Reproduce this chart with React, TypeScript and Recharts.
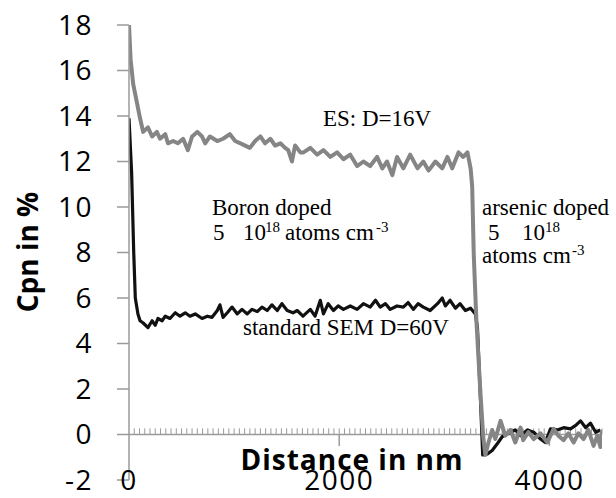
// App.tsx
import React from "react";
import { LineChart, Line, XAxis, YAxis, ReferenceLine } from "recharts";

// ES: D=16V (grey trace)
const grayDist = [
  0, 15, 40, 75, 105, 135, 180, 220, 265, 295, 345, 370, 420, 465, 515, 560, 600, 650, 695, 725,
  770, 840, 895, 960, 1010, 1060, 1105, 1150, 1200, 1250, 1295, 1345, 1390, 1440, 1485, 1515, 1550,
  1580, 1630, 1660, 1725, 1790, 1850, 1915, 1980, 2040, 2105, 2170, 2230, 2295, 2360, 2410, 2455,
  2505, 2550, 2610, 2675, 2745, 2800, 2850, 2915, 2980, 3030, 3075, 3135, 3180, 3220, 3250, 3265,
  3280, 3305, 3340, 3370, 3390, 3420, 3455, 3485, 3535, 3580, 3630, 3675, 3725, 3750, 3800, 3850,
  3915, 3980, 4040, 4085, 4135, 4180, 4230, 4275, 4325, 4370, 4420, 4455, 4485, 4500,
];
const grayCpn = [
  18.0, 16.5, 15.4, 14.6, 13.9, 13.3, 13.5, 13.1, 13.3, 13.0, 13.2, 12.8, 12.9, 12.8, 13.0, 12.5, 13.1,
  13.3, 13.1, 12.8, 13.1, 12.9, 13.0, 13.2, 12.9, 12.8, 12.7, 12.6, 12.9, 13.1, 12.8, 13.0, 12.7, 12.8,
  12.6, 12.5, 12.0, 12.7, 12.4, 12.4, 12.6, 12.3, 12.5, 12.2, 12.4, 12.1, 12.3, 11.8, 12.0, 11.8, 12.2,
  11.7, 12.0, 11.4, 12.2, 11.7, 12.3, 11.7, 12.0, 11.6, 12.0, 11.7, 12.2, 11.7, 12.4, 12.2, 12.4, 11.7,
  10.9, 7.9, 5.0, 2.1, -0.1, -0.9, -0.35, 0.2, -0.2, 0.6, -0.05, 0.2, -0.35, 0.3, -0.25, 0.1, -0.2,
  0.05, -0.35, 0.25, -0.05, -0.25, 0.05, -0.35, 0.05, -0.2, 0.2, -0.5, -0.05, -0.55, 0.2,
];

// standard SEM D=60V (black trace)
const blackDist = [
  0, 25, 45, 60, 85, 105, 135, 180, 220, 250, 275, 315, 345, 390, 440, 485, 535, 580, 630, 695, 745,
  790, 840, 865, 895, 935, 980, 1030, 1075, 1125, 1170, 1220, 1265, 1315, 1360, 1410, 1455, 1505, 1560,
  1600, 1655, 1725, 1770, 1820, 1850, 1895, 1945, 1990, 2040, 2105, 2170, 2230, 2295, 2345, 2390, 2440,
  2485, 2550, 2610, 2655, 2705, 2750, 2800, 2865, 2935, 2980, 3010, 3055, 3105, 3150, 3200, 3250, 3295,
  3315, 3345, 3365, 3410, 3455, 3505, 3550, 3610, 3675, 3725, 3790, 3850, 3915, 3960, 4010, 4075, 4135,
  4200, 4250, 4295, 4345, 4390, 4440, 4485,
];
const blackCpn = [
  13.9, 11.5, 8.0, 6.0, 5.3, 5.0, 4.9, 4.7, 5.0, 4.8, 5.1, 5.0, 5.2, 5.1, 5.35, 5.2, 5.35, 5.2, 5.3, 5.1,
  5.2, 5.15, 5.45, 5.7, 5.15, 5.35, 5.6, 5.3, 5.5, 5.3, 5.5, 5.4, 5.6, 5.45, 5.7, 5.45, 5.75, 5.45, 5.35,
  5.45, 5.2, 5.5, 5.2, 5.9, 5.3, 5.75, 5.45, 5.65, 5.5, 5.65, 5.5, 5.75, 5.6, 5.9, 5.6, 5.75, 5.5, 5.65,
  5.6, 5.8, 5.5, 5.75, 5.6, 5.45, 5.75, 6.0, 5.65, 5.9, 5.55, 5.75, 5.45, 5.55, 5.3, 4.7, 1.4, -0.9,
  -0.85, -0.7, -0.4, -0.1, 0.05, 0.2, -0.05, 0.2, 0.1, -0.2, -0.35, 0.25, 0.2, 0.3, 0.25, 0.4, 0.6, 0.3,
  0.5, 0.1, 0.2,
];

const yTicks = [-2, 0, 2, 4, 6, 8, 10, 12, 14, 16, 18];
const xTicks = [0, 2000, 4000];
// hatch marks along the zero line, every 50 nm
const minorTicks = Array.from({ length: 90 }, (_, i) => (i + 1) * 50);
const majorTicks = [2000, 4000];

const grayData = grayDist.map((d, i) => ({ d, v: grayCpn[i] }));
const blackData = blackDist.map((d, i) => ({ d, v: blackCpn[i] }));

const AXIS = "#9a9a9a";
const SANS = "'Open Sans', sans-serif";
const SERIF = "'Liberation Serif', 'Times New Roman', serif";

const XTick = (props: any) => (
  <text x={props.x} y={props.y + 10} textAnchor="middle" fontSize={28} fontFamily={SANS} fill="#000" letterSpacing={1.5}>
    {props.payload.value}
  </text>
);

const T = ({ x, y, s = 23, children }: { x: number; y: number; s?: number; children: React.ReactNode }) => (
  <text x={x} y={y} fontFamily={SERIF} fontSize={s} fill="#000">
    {children}
  </text>
);

const App: React.FC = () => {
  return (
    <div style={{ position: "absolute", left: 0, top: 0, width: 616, height: 498, background: "#fff" }}>
      <LineChart width={616} height={498} margin={{ top: 25, right: 14, left: 0, bottom: 0 }}>
        <XAxis
          dataKey="d"
          type="number"
          domain={[0, 4500]}
          ticks={xTicks}
          allowDataOverflow
          axisLine={false}
          tickLine={false}
          tickSize={0}
          tickMargin={0}
          height={18}
          tick={<XTick />}
        />
        <YAxis
          type="number"
          domain={[-2, 18]}
          ticks={yTicks}
          interval={0}
          width={129}
          axisLine={{ stroke: AXIS, strokeWidth: 1.5 }}
          tickLine={{ stroke: AXIS, strokeWidth: 1.5 }}
          tickSize={12}
          tickMargin={24}
          tick={{ fontSize: 28, fontFamily: SANS, fill: "#000", letterSpacing: 1.5 }}
        />
        <ReferenceLine y={0} stroke={AXIS} strokeWidth={1.5} />
        {minorTicks.map((d) => (
          <ReferenceLine key={"m" + d} segment={[{ x: d, y: 0 }, { x: d, y: 0.27 }]} stroke={AXIS} strokeWidth={1} />
        ))}
        {majorTicks.map((d) => (
          <ReferenceLine key={"M" + d} segment={[{ x: d, y: 0 }, { x: d, y: -0.5 }]} stroke={AXIS} strokeWidth={1.5} />
        ))}
        <Line
          data={blackData}
          dataKey="v"
          type="linear"
          stroke="#111"
          strokeWidth={3.2}
          dot={false}
          strokeLinejoin="round"
          isAnimationActive={false}
        />
        <Line
          data={grayData}
          dataKey="v"
          type="linear"
          stroke="#858585"
          strokeWidth={4}
          dot={false}
          strokeLinejoin="round"
          isAnimationActive={false}
        />
      </LineChart>
      <svg width={616} height={498} style={{ position: "absolute", left: 0, top: 0, pointerEvents: "none" }}>
        <text transform="translate(38,252) rotate(-90)" textAnchor="middle" fontSize={28} fontWeight="bold" fontFamily={SANS} fill="#000">
          Cpn in %
        </text>
        <text x={352} y={470} textAnchor="middle" fontSize={28} fontWeight="bold" fontFamily={SANS} fill="#000" letterSpacing={1}>
          Distance in nm
        </text>
        <T x={323} y={126}>ES: D=16V</T>
        <T x={212} y={215}>Boron doped</T>
        <T x={213} y={240}>5</T>
        <T x={243} y={240}>10</T>
        <T x={265} y={232} s={15}>18</T>
        <T x={285} y={240}>atoms cm</T>
        <T x={376} y={232} s={15}>-3</T>
        <T x={482} y={215}>arsenic doped</T>
        <T x={488} y={240}>5</T>
        <T x={522} y={240}>10</T>
        <T x={545} y={232} s={15}>18</T>
        <T x={482} y={263}>atoms cm</T>
        <T x={572} y={255} s={15}>-3</T>
        <T x={243} y={335}>standard SEM D=60V</T>
      </svg>
    </div>
  );
};

export default App;
